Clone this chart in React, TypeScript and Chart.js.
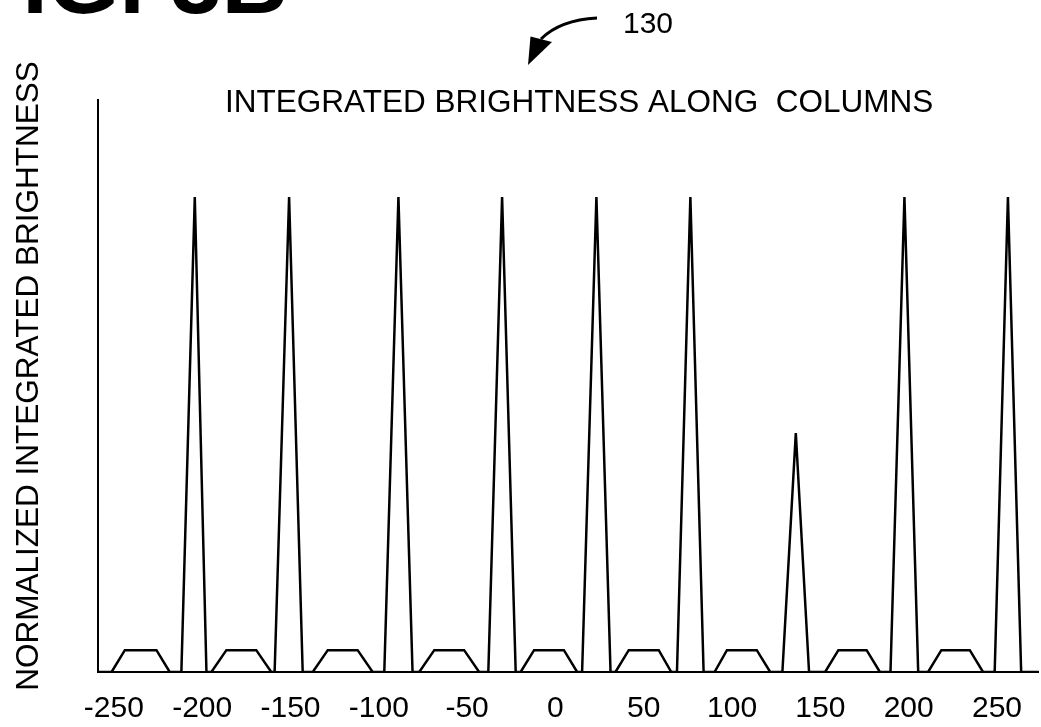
import { useEffect, useRef } from "react";
import { Chart, registerables } from "chart.js";

Chart.register(...registerables);

// Column position axis
const xTickLabels = [-250, -200, -150, -100, -50, 0, 50, 100, 150, 200, 250];
const X_MIN = -259;
const X_MAX = 273.7;
const Y_MAX = 1.204;

// Low plateaus between the bright columns (x of the four corners)
const plateauStart = [-251.3, -194.8, -137.4, -77.1, -19.7, 34.0, 90.1, 152.7, 211.0];
const plateauTopStart = [-243.8, -186.3, -128.9, -68.6, -12.1, 41.5, 97.1, 160.2, 218.5];
const plateauTopEnd = [-225.9, -169.4, -112.0, -51.7, 4.8, 58.5, 114.0, 176.2, 234.6];
const plateauEnd = [-218.4, -160.9, -103.5, -43.2, 12.3, 65.6, 121.6, 183.7, 242.1];
const plateauLevel = 0.046;

// Bright column peaks
const peakLeft = [-211.8, -159.0, -96.9, -38.0, 15.1, 68.8, 128.5, 189.7, 248.7];
const peakApex = [-204.2, -150.8, -88.9, -30.2, 23.2, 76.4, 136.1, 197.6, 256.2];
const peakRight = [-197.6, -143.1, -80.9, -22.5, 31.2, 83.9, 143.6, 205.4, 263.7];
const peakHeight = [1.0, 1.0, 1.0, 1.0, 1.0, 1.0, 0.503, 1.0, 1.0];

const FONT = '"Liberation Sans", Arial, Helvetica, sans-serif';

function buildProfile() {
  const pts: { x: number; y: number }[] = [{ x: X_MIN, y: 0 }];
  for (let i = 0; i < peakApex.length; i++) {
    pts.push(
      { x: plateauStart[i], y: 0 },
      { x: plateauTopStart[i], y: plateauLevel },
      { x: plateauTopEnd[i], y: plateauLevel },
      { x: plateauEnd[i], y: 0 },
      { x: peakLeft[i], y: 0 },
      { x: peakApex[i], y: peakHeight[i] },
      { x: peakRight[i], y: 0 }
    );
  }
  pts.push({ x: X_MAX, y: 0 });
  return pts;
}

// Figure caption, reference numeral with its arrow, plot title and y label
const annotations = {
  id: "figureText",
  afterDraw(chart: Chart) {
    const ctx = chart.ctx;
    ctx.save();
    ctx.fillStyle = "#000";
    ctx.strokeStyle = "#000";

    ctx.font = `bold 92px ${FONT}`;
    ctx.textBaseline = "alphabetic";
    ctx.textAlign = "left";
    ctx.fillText("FIG. 3B", -34, 13);

    ctx.font = `30px ${FONT}`;
    ctx.fillText("130", 623, 33);

    ctx.lineWidth = 3;
    ctx.beginPath();
    ctx.moveTo(597, 18);
    ctx.quadraticCurveTo(560, 20, 541, 39);
    ctx.stroke();
    ctx.beginPath();
    ctx.moveTo(528, 65);
    ctx.lineTo(530.5, 36.5);
    ctx.lineTo(552, 42);
    ctx.closePath();
    ctx.fill();

    ctx.font = `31.5px ${FONT}`;
    ctx.fillText("INTEGRATED BRIGHTNESS ALONG  COLUMNS", 225, 112);

    ctx.translate(38, 376);
    ctx.rotate(-Math.PI / 2);
    ctx.textAlign = "center";
    ctx.fillText("NORMALIZED INTEGRATED BRIGHTNESS", 0, 0);
    ctx.restore();
  },
};

export default function App() {
  const canvasRef = useRef<HTMLCanvasElement | null>(null);

  useEffect(() => {
    const canvas = canvasRef.current;
    if (!canvas) return;
    const chart = new Chart(canvas, {
      type: "line",
      data: {
        datasets: [
          {
            data: buildProfile(),
            borderColor: "#000",
            borderWidth: 2.5,
            pointRadius: 0,
            tension: 0,
            fill: false,
          },
        ],
      },
      options: {
        responsive: false,
        animation: false,
        layout: { padding: { top: 100, left: 98, right: 0, bottom: 0 } },
        plugins: {
          legend: { display: false },
          title: { display: false },
          tooltip: { enabled: false },
        },
        scales: {
          x: {
            type: "linear",
            min: X_MIN,
            max: X_MAX,
            grid: { display: false, drawTicks: false },
            border: { display: true, color: "#000", width: 2 },
            afterBuildTicks: (scale: any) => {
              scale.ticks = xTickLabels.map((v) => ({ value: v }));
            },
            afterFit: (scale: any) => {
              scale.height = 55;
            },
            ticks: {
              autoSkip: false,
              maxRotation: 0,
              padding: 19,
              color: "#000",
              font: { family: FONT, size: 30 },
              callback: (v: any) => String(v),
            },
          },
          y: {
            type: "linear",
            min: 0,
            max: Y_MAX,
            grid: { display: false, drawTicks: false },
            border: { display: true, color: "#000", width: 2 },
            ticks: { display: false },
          },
        },
      },
      plugins: [annotations],
    });
    return () => chart.destroy();
  }, []);

  return (
    <div style={{ position: "fixed", left: 0, top: 0, width: 1041, height: 727, background: "#fff" }}>
      <canvas ref={canvasRef} width={1041} height={727} style={{ display: "block" }} />
    </div>
  );
}
